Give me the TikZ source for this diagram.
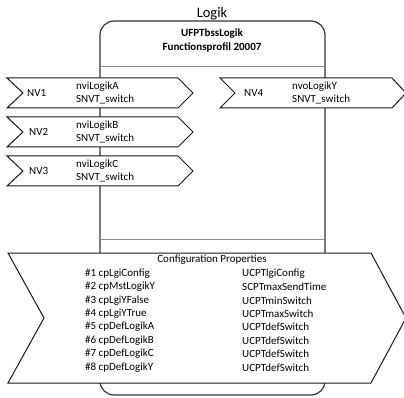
\documentclass[tikz,border=0pt]{standalone}
\usepackage{fontspec}
\setmainfont{Carlito}
\usepackage{tikz}
\usetikzlibrary{positioning}

\begin{document}
\begin{tikzpicture}[x=1pt,y=-1pt,%
  % common options for the frame:
  frame/.style = {draw=black!80, line width=1.2pt, rounded corners=14pt},
  sep/.style = {draw=black!45, line width=1pt},
  % common options for the arrow boxes:
  nvbox/.style = {draw=black!90, line width=1pt, fill=white},
  % common options for the texts:
  txt/.style = {font=\fontsize{11}{13.4}\selectfont, align=left, anchor=west, inner sep=0},
  head/.style = {font=\fontsize{11}{13.4}\selectfont\bfseries, align=center, inner sep=0}
	]
  \useasboundingbox (0,0) rectangle (404,398);

  \node[font=\fontsize{14.5}{16}\selectfont, inner sep=0] (title) at (212,14) {Logik};

  % frame of the block
  \draw[frame] (100,21) rectangle (325,395);
  \draw[sep] (100,67) -- (325,67);
  \draw[sep] (100,239) -- (325,239);
  \node[head] (hd) at (212,40.5) {UFPTbssLogik\\Functionsprofil 20007};

  % inputs
  \draw[nvbox] (7,78) -- (178,78) -- (193,93) -- (178,108) -- (7,108) -- (23,93) -- cycle;
  \draw[nvbox] (7,117) -- (178,117) -- (193,132) -- (178,147) -- (7,147) -- (23,132) -- cycle;
  \draw[nvbox] (7,156) -- (178,156) -- (193,171) -- (178,186) -- (7,186) -- (23,171) -- cycle;
  \node[txt] (nv1) at (27,93) {NV1};
  \node[txt] (nv2) at (29,132) {NV2};
  \node[txt] (nv3) at (29,171) {NV3};
  \node[txt] (in1) at (76,93) {nviLogikA\\SNVT\_switch};
  \node[txt] (in2) at (76,132) {nviLogikB\\SNVT\_switch};
  \node[txt] (in3) at (76,171) {nviLogikC\\SNVT\_switch};

  % output
  \draw[nvbox] (220,78) -- (392,78) -- (406,93) -- (392,108) -- (220,108) -- (235,93) -- cycle;
  \node[txt] (nv4) at (244,93) {NV4};
  \node[txt] (out1) at (292,93) {nvoLogikY\\SNVT\_switch};

  % configuration properties
  \draw[nvbox] (8,253) -- (371,253) -- (406,318) -- (371,383) -- (8,383) -- (44,318) -- cycle;
  \node[txt, anchor=center] (cfg) at (212,260) {Configuration Properties};
  \foreach \i/\cp/\typ in {1/cpLgiConfig/UCPTlgiConfig, 2/cpMstLogikY/SCPTmaxSendTime,
      3/cpLgiYFalse/UCPTminSwitch, 4/cpLgiYTrue/UCPTmaxSwitch,
      5/cpDefLogikA/UCPTdefSwitch, 6/cpDefLogikB/UCPTdefSwitch,
      7/cpDefLogikC/UCPTdefSwitch, 8/cpDefLogikY/UCPTdefSwitch}{
    \node[txt] (cp\i) at (85,{273.5+(\i-1)*13.4}) {\#\i{} \cp};
    \node[txt] (ty\i) at (242,{273.5+(\i-1)*13.4}) {\typ};
  }
\end{tikzpicture}
\end{document}
